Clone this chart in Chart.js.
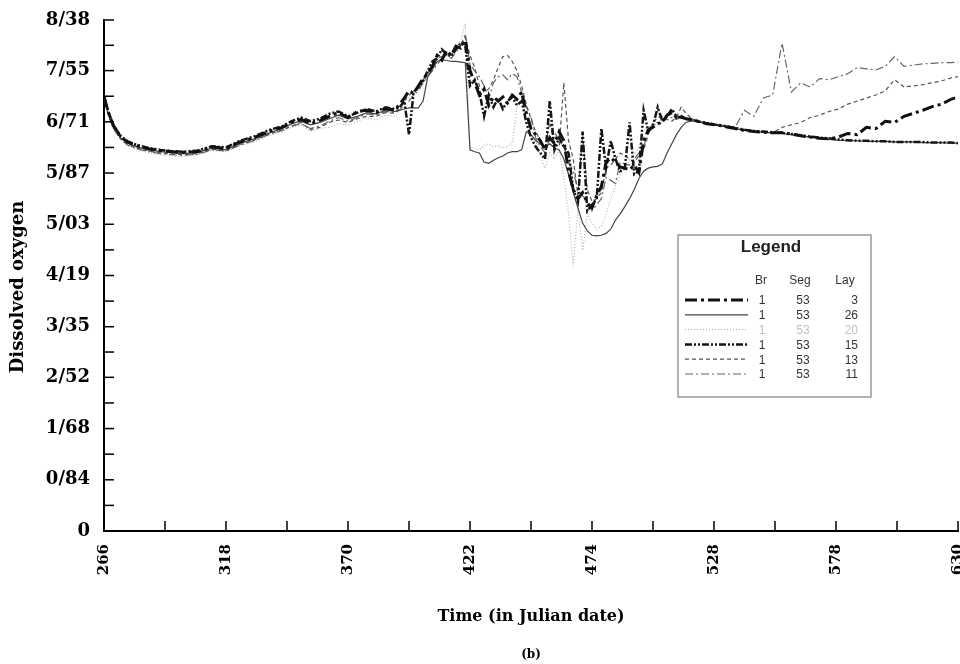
<!DOCTYPE html>
<html>
<head>
<meta charset="utf-8">
<script src="https://cdn.jsdelivr.net/npm/chart.js@4.4.1/dist/chart.umd.min.js"></script>
<style>
  html, body { margin: 0; padding: 0; background: #fff; }
  canvas { display: block; }
</style>
</head>
<body>
<canvas id="graficoOxigeno" width="960" height="664"></canvas>
<script>
// Dias julianos (eje x)
const dias = [
  266, 268, 270, 273, 276, 280, 285, 290, 295, 300, 306, 312, 318, 324, 330, 336, 342, 346, 350, 354, 358, 362, 366, 370, 374, 378, 382, 386, 390,
  392, 394, 396, 398, 400,  402, 404, 406, 408, 410,  412, 414, 416, 418, 420,  422, 424, 426, 428, 430,
  432, 434, 436, 438, 440,  442, 444, 446, 448, 450,  452, 454, 456, 458, 460,  462, 464, 466, 468, 470,
  472, 474, 476, 478, 480,  482, 484, 486, 488, 490,  492, 494, 496, 498, 500,  502, 504, 506, 508, 510,
  512, 514, 516, 518, 520,
  523, 527, 531, 535, 539, 543, 547, 551, 555, 559, 563, 567, 571, 575, 579, 583, 587, 591, 595, 599, 603, 607, 611, 615, 619, 623, 627, 630
];

// Oxigeno disuelto por capa (Br 1, Seg 53)
const lay3 = [
  7.12, 6.85, 6.65, 6.47, 6.38, 6.32, 6.27, 6.24, 6.22, 6.21, 6.22, 6.30, 6.27, 6.38, 6.45, 6.55, 6.62, 6.70, 6.75, 6.68, 6.73, 6.80, 6.86, 6.78, 6.88, 6.90, 6.86, 6.93, 6.90,
  7.00, 7.10, 7.22, 7.18, 7.30,  7.42, 7.50, 7.62, 7.80, 7.72,  7.88, 7.80, 7.95, 7.92, 8.05,  7.55, 7.35, 7.15, 7.25, 6.98,
  7.12, 7.05, 7.12, 7.02, 7.15,  7.08, 7.20, 6.85, 6.60, 6.50,  6.40, 6.25, 6.45, 6.35, 6.55,  6.40, 5.90, 5.60, 5.45, 5.55,
  5.38, 5.30, 5.50, 5.65, 6.05,  6.12, 6.05, 5.97, 5.95, 5.92,  6.00, 5.88, 6.40, 6.58, 6.62,  6.68, 6.70, 6.82, 6.86, 6.78,
  6.80, 6.76, 6.75, 6.73, 6.71,
  6.68, 6.66, 6.63, 6.60, 6.57, 6.55, 6.54, 6.53, 6.53, 6.51, 6.48, 6.46, 6.44, 6.43, 6.46, 6.52, 6.50, 6.62, 6.60, 6.72, 6.70, 6.80, 6.85, 6.90, 6.96, 7.00, 7.08, 7.12
];
const lay26 = [
  7.10, 6.82, 6.62, 6.45, 6.36, 6.30, 6.25, 6.22, 6.20, 6.19, 6.21, 6.28, 6.25, 6.36, 6.43, 6.52, 6.60, 6.68, 6.72, 6.66, 6.70, 6.76, 6.82, 6.76, 6.80, 6.86, 6.84, 6.90, 6.88,
  6.90, 6.92, 6.94, 6.94, 6.94,  7.05, 7.45, 7.58, 7.70, 7.72,  7.72, 7.70, 7.70, 7.69, 7.68,  6.25, 6.22, 6.20, 6.05, 6.03,
  6.08, 6.12, 6.15, 6.20, 6.22,  6.22, 6.25, 6.55, 6.50, 6.40,  6.35, 6.30, 6.35, 6.28, 6.25,  6.10, 5.85, 5.55, 5.30, 5.05,
  4.92, 4.85, 4.84, 4.85, 4.88,  4.95, 5.10, 5.20, 5.32, 5.45,  5.60, 5.78, 5.90, 5.95, 5.97,  5.98, 6.02, 6.20, 6.35, 6.50,
  6.62, 6.70, 6.72, 6.72, 6.71,
  6.68, 6.66, 6.63, 6.60, 6.57, 6.55, 6.54, 6.53, 6.52, 6.50, 6.48, 6.46, 6.44, 6.42, 6.41, 6.40, 6.40, 6.39, 6.39, 6.39, 6.38, 6.38, 6.38, 6.37, 6.37, 6.37, 6.36, 6.36
];
const lay20 = [
  7.08, 6.80, 6.58, 6.42, 6.32, 6.26, 6.20, 6.17, 6.15, 6.14, 6.17, 6.24, 6.22, 6.32, 6.38, 6.48, 6.55, 6.62, 6.66, 6.55, 6.60, 6.62, 6.68, 6.66, 6.72, 6.78, 6.74, 6.82, 6.80,
  6.92, 7.05, 7.10, 7.15, 7.25,  7.35, 7.45, 7.55, 7.70, 7.75,  7.80, 7.85, 7.90, 8.05, 8.32,  6.30, 6.28, 6.25, 6.32, 6.35,
  6.30, 6.32, 6.28, 6.30, 6.35,  6.95, 7.05, 6.80, 6.60, 6.40,  6.15, 5.95, 6.20, 6.10, 6.25,  5.80, 5.20, 4.35, 5.30, 4.60,
  5.20, 5.05, 4.95, 5.00, 5.20,  5.45, 5.65, 5.85, 5.95, 6.08,  6.18, 6.30, 6.45, 6.62, 6.65,  6.68, 6.70, 6.78, 6.85, 6.75,
  6.78, 6.76, 6.74, 6.73, 6.71,
  6.67, 6.65, 6.62, 6.60, 6.58, 6.55, 6.54, 6.52, 6.52, 6.50, 6.47, 6.45, 6.43, 6.42, 6.41, 6.40, 6.40, 6.39, 6.39, 6.38, 6.38, 6.38, 6.37, 6.37, 6.37, 6.36, 6.36, 6.36
];
const lay15 = [
  7.14, 6.86, 6.66, 6.48, 6.39, 6.33, 6.28, 6.25, 6.23, 6.22, 6.24, 6.31, 6.29, 6.40, 6.47, 6.57, 6.64, 6.72, 6.78, 6.72, 6.76, 6.84, 6.88, 6.80, 6.86, 6.92, 6.88, 6.95, 6.92,
  6.95, 7.05, 6.50, 7.20, 7.28,  7.38, 7.55, 7.70, 7.75, 7.90,  7.82, 7.78, 7.90, 8.00, 7.95,  7.30, 7.40, 7.20, 6.80, 7.15,
  6.95, 7.10, 6.92, 7.05, 7.12,  6.98, 7.05, 6.70, 6.45, 6.30,  6.20, 6.10, 7.05, 6.25, 6.45,  6.30, 6.20, 5.60, 5.40, 6.55,
  5.25, 5.35, 5.45, 6.60, 5.95,  6.40, 6.10, 5.90, 5.95, 6.70,  5.85, 5.90, 6.90, 6.55, 6.65,  6.95, 6.72, 6.80, 6.92, 6.80,
  6.78, 6.76, 6.75, 6.73, 6.71,
  6.69, 6.66, 6.64, 6.61, 6.58, 6.56, 6.55, 6.54, 6.53, 6.51, 6.49, 6.47, 6.45, 6.44, 6.42, 6.41, 6.40, 6.40, 6.39, 6.39, 6.38, 6.38, 6.38, 6.38, 6.37, 6.37, 6.37, 6.36
];
const lay13 = [
  7.10, 6.83, 6.62, 6.44, 6.34, 6.28, 6.23, 6.20, 6.18, 6.17, 6.19, 6.26, 6.24, 6.34, 6.41, 6.50, 6.58, 6.64, 6.70, 6.58, 6.62, 6.70, 6.74, 6.70, 6.76, 6.80, 6.80, 6.86, 6.85,
  6.95, 7.05, 7.15, 7.20, 7.28,  7.40, 7.50, 7.60, 7.75, 7.78,  7.82, 7.80, 7.90, 7.98, 8.10,  7.80, 7.60, 7.30, 7.20, 7.25,
  7.40, 7.60, 7.78, 7.80, 7.70,  7.55, 7.30, 7.00, 6.75, 6.55,  6.40, 6.30, 6.70, 6.35, 6.30,  7.35, 6.40, 6.10, 5.50, 6.50,
  5.60, 5.40, 5.45, 5.55, 5.95,  6.00, 6.10, 6.20, 6.15, 6.10,  6.05, 6.15, 6.25, 6.50, 6.70,  6.78, 6.80, 6.75, 6.72, 6.78,
  6.95, 6.85, 6.78, 6.74, 6.71,
  6.68, 6.66, 6.63, 6.60, 6.57, 6.55, 6.54, 6.53, 6.62, 6.66, 6.70, 6.78, 6.82, 6.88, 6.92, 7.00, 7.05, 7.10, 7.15, 7.22, 7.40, 7.28, 7.30, 7.32, 7.35, 7.38, 7.43, 7.45
];
const lay11 = [
  7.09, 6.81, 6.60, 6.43, 6.33, 6.27, 6.22, 6.19, 6.17, 6.16, 6.18, 6.25, 6.23, 6.33, 6.40, 6.50, 6.57, 6.64, 6.68, 6.60, 6.64, 6.72, 6.78, 6.72, 6.78, 6.84, 6.82, 6.88, 6.86,
  6.90, 7.00, 7.05, 7.15, 7.22,  7.35, 7.45, 7.55, 7.65, 7.75,  7.80, 7.75, 7.85, 7.95, 8.15,  7.65, 7.55, 7.45, 7.30, 7.10,
  7.35, 7.45, 7.48, 7.40, 7.50,  7.45, 7.20, 6.95, 6.80, 6.45,  6.30, 6.20, 6.45, 6.55, 6.40,  6.30, 6.05, 5.90, 5.60, 5.50,
  5.40, 5.25, 5.35, 5.45, 5.80,  5.75, 5.70, 6.05, 6.02, 6.00,  6.10, 6.20, 6.30, 6.55, 6.68,  6.70, 6.75, 6.80, 6.78, 6.75,
  6.78, 6.76, 6.75, 6.73, 6.71,
  6.68, 6.66, 6.63, 6.62, 6.90, 6.80, 7.10, 7.15, 8.00, 7.20, 7.35, 7.28, 7.42, 7.40, 7.45, 7.50, 7.60, 7.58, 7.56, 7.62, 7.78, 7.62, 7.64, 7.66, 7.67, 7.68, 7.68, 7.69
];

// Marcas de los ejes
const xTickValues = [266, 318, 370, 422, 474, 526, 578, 630];
const xTickLabels = ["266", "318", "370", "422", "474", "528", "578", "630"];
const yTickValues = [0, 0.84, 1.68, 2.52, 3.35, 4.19, 5.03, 5.87, 6.71, 7.55, 8.38];
const yTickLabels = ["0", "0/84", "1/68", "2/52", "3/35", "4/19", "5/03", "5/87", "6/71", "7/55", "8/38"];

// Tabla de leyenda
const leyendaBr = [1, 1, 1, 1, 1, 1];
const leyendaSeg = [53, 53, 53, 53, 53, 53];
const leyendaLay = [3, 26, 20, 15, 13, 11];

const serieDe = (valores) => dias.map((d, i) => ({ x: d, y: valores[i] }));

const series = [
  { label: "Lay 3", data: serieDe(lay3), borderColor: "#111", borderWidth: 3, borderDash: [12, 4, 3, 4], order: 0 },
  { label: "Lay 26", data: serieDe(lay26), borderColor: "#444", borderWidth: 1.2, borderDash: [], order: 2 },
  { label: "Lay 20", data: serieDe(lay20), borderColor: "#b4b4b4", borderWidth: 1.2, borderDash: [1, 2], order: 5 },
  { label: "Lay 15", data: serieDe(lay15), borderColor: "#151515", borderWidth: 2.5, borderDash: [7, 2, 2, 2, 2, 2], order: 1 },
  { label: "Lay 13", data: serieDe(lay13), borderColor: "#555", borderWidth: 1.2, borderDash: [4, 3], order: 3 },
  { label: "Lay 11", data: serieDe(lay11), borderColor: "#666", borderWidth: 1.2, borderDash: [8, 3, 2, 3], order: 4 },
];

// marcas hacia adentro (mayores y menores)
const marcasInternas = {
  id: "marcasInternas",
  afterDraw(chart) {
    const { ctx, chartArea, scales } = chart;
    ctx.save();
    ctx.strokeStyle = "#000";
    ctx.lineWidth = 1.5;
    const conMedios = (vals) => {
      const out = [];
      vals.forEach((v, i) => {
        out.push(v);
        if (i < vals.length - 1) out.push((v + vals[i + 1]) / 2);
      });
      return out;
    };
    conMedios(xTickValues).forEach((v) => {
      const px = scales.x.getPixelForValue(v);
      ctx.beginPath();
      ctx.moveTo(px, chartArea.bottom);
      ctx.lineTo(px, chartArea.bottom - 10);
      ctx.stroke();
    });
    conMedios(yTickValues).forEach((v) => {
      const py = scales.y.getPixelForValue(v);
      ctx.beginPath();
      ctx.moveTo(chartArea.left, py);
      ctx.lineTo(chartArea.left + 10, py);
      ctx.stroke();
    });
    ctx.restore();
  },
};

// titulos de ejes y rotulo (b)
const titulos = {
  id: "titulos",
  afterDraw(chart) {
    const { ctx, chartArea } = chart;
    ctx.save();
    ctx.fillStyle = "#000";
    ctx.textAlign = "center";
    ctx.textBaseline = "middle";
    ctx.font = "bold 18px 'DejaVu Serif'";
    ctx.save();
    ctx.translate(18, 287);
    ctx.rotate(-Math.PI / 2);
    ctx.fillText("Dissolved oxygen", 0, 0);
    ctx.restore();
    ctx.font = "bold 16px 'DejaVu Serif'";
    ctx.fillText("Time (in Julian date)", 531, chartArea.bottom + 86);
    ctx.font = "bold 12px 'DejaVu Serif'";
    ctx.fillText("(b)", 531, chartArea.bottom + 124);
    ctx.restore();
  },
};

// leyenda en forma de tabla
const leyendaTabla = {
  id: "leyendaTabla",
  afterDraw(chart) {
    const { ctx } = chart;
    const bx = 678, by = 235, bw = 193, bh = 162;
    ctx.save();
    ctx.fillStyle = "#fff";
    ctx.fillRect(bx, by, bw, bh);
    ctx.strokeStyle = "#9a9a9a";
    ctx.lineWidth = 1.5;
    ctx.strokeRect(bx, by, bw, bh);

    ctx.fillStyle = "#222";
    ctx.textBaseline = "middle";
    ctx.textAlign = "center";
    ctx.font = "bold 17px 'Liberation Sans'";
    ctx.fillText("Legend", 771, 247);
    ctx.font = "12px 'Liberation Sans'";
    ctx.fillStyle = "#333";
    ctx.fillText("Br", 761, 281);
    ctx.fillText("Seg", 800, 281);
    ctx.fillText("Lay", 845, 281);

    const orden = [0, 1, 2, 3, 4, 5];
    orden.forEach((k, fila) => {
      const ds = chart.data.datasets[k];
      const yy = 300 + fila * 14.8;
      ctx.save();
      ctx.strokeStyle = ds.borderColor;
      ctx.lineWidth = ds.borderWidth;
      ctx.setLineDash(ds.borderDash);
      ctx.beginPath();
      ctx.moveTo(685, yy);
      ctx.lineTo(748, yy);
      ctx.stroke();
      ctx.restore();
      ctx.fillStyle = k === 2 ? "#c0c0c0" : "#333";
      ctx.font = "12px 'Liberation Sans'";
      ctx.textAlign = "center";
      ctx.fillText(String(leyendaBr[fila]), 762, yy + 1);
      ctx.fillText(String(leyendaSeg[fila]), 803, yy + 1);
      ctx.textAlign = "right";
      ctx.fillText(String(leyendaLay[fila]), 858, yy + 1);
    });
    ctx.restore();
  },
};

new Chart(document.getElementById("graficoOxigeno"), {
  type: "line",
  data: {
    datasets: series.map((s) => ({ ...s, pointRadius: 0, tension: 0, fill: false })),
  },
  options: {
    responsive: false,
    animation: false,
    devicePixelRatio: 1,
    layout: { padding: { top: 20, right: 2, left: 0, bottom: 0 } },
    plugins: {
      legend: { display: false },
      tooltip: { enabled: false },
    },
    scales: {
      x: {
        type: "linear",
        min: 266,
        max: 630,
        afterBuildTicks: (scale) => {
          scale.ticks = xTickValues.map((v) => ({ value: v }));
        },
        afterFit: (scale) => {
          scale.height = 133;
          scale.paddingLeft = 0;
          scale.paddingRight = 0;
        },
        grid: { display: false, drawTicks: false },
        border: { display: true, color: "#000", width: 2 },
        ticks: {
          autoSkip: false,
          minRotation: 90,
          maxRotation: 90,
          padding: 13,
          color: "#000",
          font: { family: "'DejaVu Serif'", size: 15, weight: "bold" },
          callback: (value, index) => xTickLabels[index],
        },
      },
      y: {
        type: "linear",
        min: 0,
        max: 8.38,
        afterBuildTicks: (scale) => {
          scale.ticks = yTickValues.map((v) => ({ value: v }));
        },
        afterFit: (scale) => {
          scale.width = 104;
          scale.paddingTop = 0;
          scale.paddingBottom = 0;
        },
        grid: { display: false, drawTicks: false },
        border: { display: true, color: "#000", width: 2 },
        ticks: {
          autoSkip: false,
          padding: 14,
          color: "#000",
          font: { family: "'DejaVu Serif'", size: 18, weight: "bold" },
          callback: (value, index) => yTickLabels[index],
        },
      },
    },
  },
  plugins: [marcasInternas, titulos, leyendaTabla],
});
</script>
</body>
</html>
